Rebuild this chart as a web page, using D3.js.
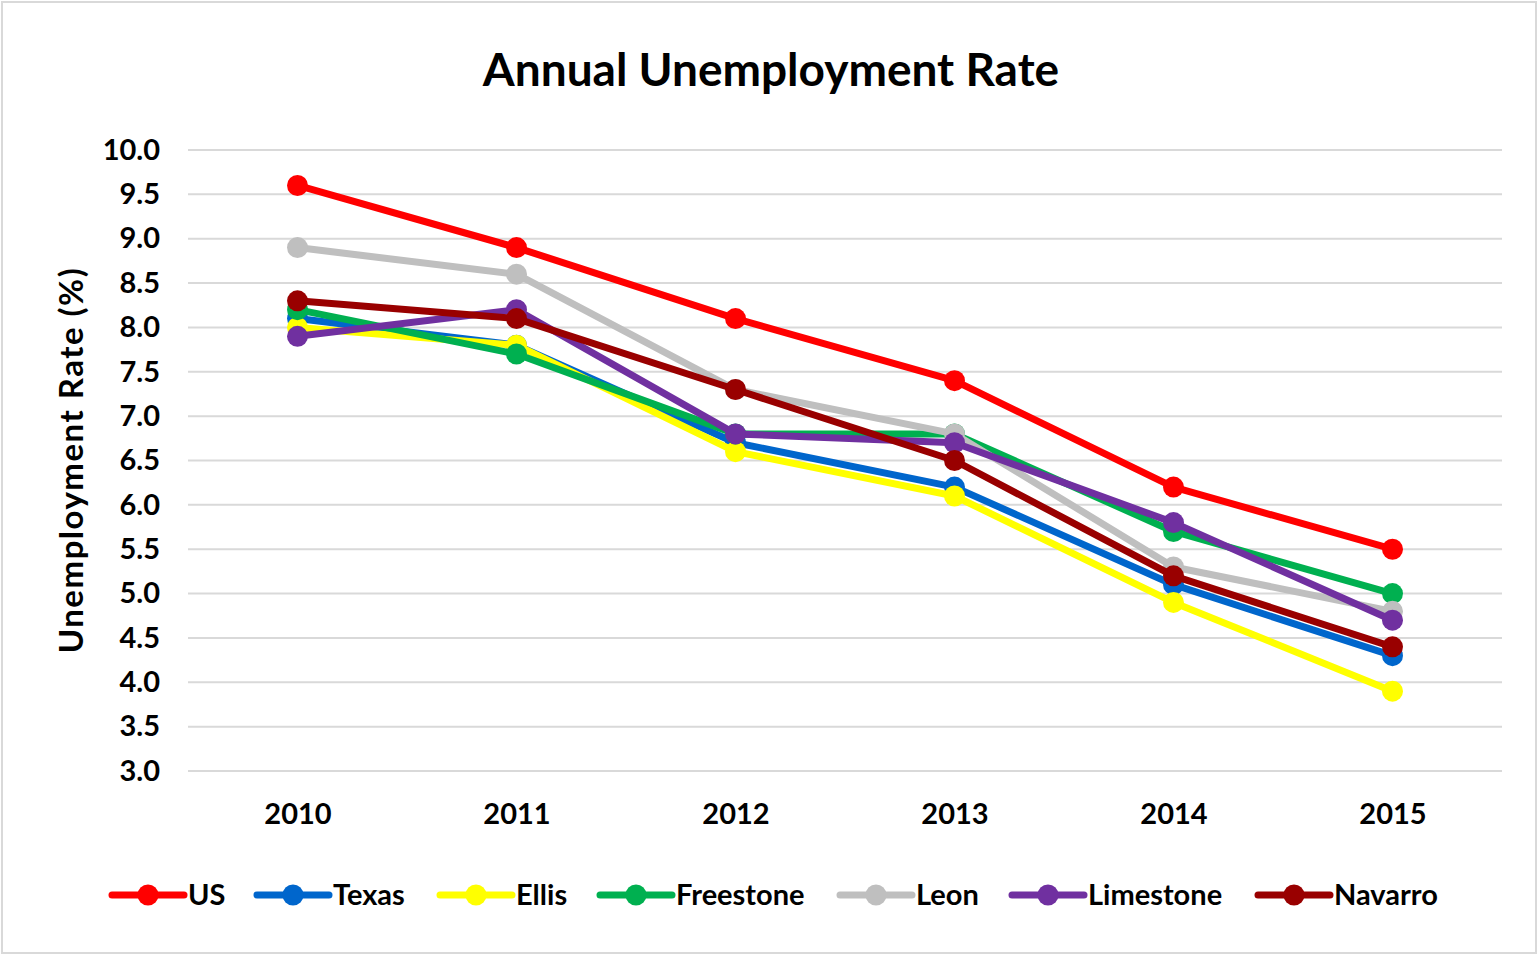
<!DOCTYPE html>
<html>
<head>
<meta charset="utf-8">
<script src="https://cdn.jsdelivr.net/npm/d3@7"></script>
<style>
  body { margin: 0; background: #fff; }
  text { font-family: Lato, "Open Sans", sans-serif; }
</style>
</head>
<body>
<svg id="chart"></svg>
<script>
// Annual unemployment rate, 2010-2015
const years = ["2010", "2011", "2012", "2013", "2014", "2015"];
const yTicks = [3.0, 3.5, 4.0, 4.5, 5.0, 5.5, 6.0, 6.5, 7.0, 7.5, 8.0, 8.5, 9.0, 9.5, 10.0];

const seriesNames = ["US", "Texas", "Ellis", "Freestone", "Leon", "Limestone", "Navarro"];
const seriesColors = ["#ff0000", "#0066cc", "#ffff00", "#00b050", "#bfbfbf", "#7030a0", "#990000"];

const usValues = [9.6, 8.9, 8.1, 7.4, 6.2, 5.5];
const texasValues = [8.1, 7.8, 6.7, 6.2, 5.1, 4.3];
const ellisValues = [8.0, 7.8, 6.6, 6.1, 4.9, 3.9];
const freestoneValues = [8.2, 7.7, 6.8, 6.8, 5.7, 5.0];
const leonValues = [8.9, 8.6, 7.3, 6.8, 5.3, 4.8];
const limestoneValues = [7.9, 8.2, 6.8, 6.7, 5.8, 4.7];
const navarroValues = [8.3, 8.1, 7.3, 6.5, 5.2, 4.4];

const allValues = [usValues, texasValues, ellisValues, freestoneValues, leonValues, limestoneValues, navarroValues];

const W = 1539, H = 956;
const svg = d3.select("#chart").attr("width", W).attr("height", H);

// outer border
svg.append("rect")
    .attr("x", 2).attr("y", 2)
    .attr("width", W - 5).attr("height", H - 5)
    .attr("fill", "#fff")
    .attr("stroke", "#d9d9d9")
    .attr("stroke-width", 2);

const plotLeft = 188, plotRight = 1502, plotTop = 150, plotBottom = 771;

const x = d3.scalePoint()
    .domain(years)
    .range([plotLeft, plotRight])
    .padding(0.5);

const y = d3.scaleLinear()
    .domain([3, 10])
    .range([plotBottom, plotTop]);

// gridlines
svg.append("g")
    .selectAll("line")
    .data(yTicks)
    .enter()
    .append("line")
    .attr("x1", plotLeft)
    .attr("x2", plotRight)
    .attr("y1", d => y(d))
    .attr("y2", d => y(d))
    .attr("stroke", "#d9d9d9")
    .attr("stroke-width", 2);

// y axis labels
const yAxis = d3.axisLeft(y)
    .tickValues(yTicks)
    .tickFormat(d3.format(".1f"))
    .tickSize(0)
    .tickPadding(28);

svg.append("g")
    .attr("transform", `translate(${plotLeft},0)`)
    .call(yAxis)
    .call(g => g.select(".domain").remove())
    .selectAll("text")
    .attr("font-family", "Lato, sans-serif")
    .attr("font-size", 29)
    .attr("font-weight", "bold")
    .attr("fill", "#000");

// x axis labels
const xAxis = d3.axisBottom(x).tickSize(0).tickPadding(32);

svg.append("g")
    .attr("transform", `translate(0,${plotBottom})`)
    .call(xAxis)
    .call(g => g.select(".domain").remove())
    .selectAll("text")
    .attr("font-family", "Lato, sans-serif")
    .attr("font-size", 29)
    .attr("font-weight", "bold")
    .attr("fill", "#000");

// title
svg.append("text")
    .attr("x", 771)
    .attr("y", 86)
    .attr("text-anchor", "middle")
    .attr("font-size", 46)
    .attr("font-weight", "bold")
    .attr("fill", "#000")
    .text("Annual Unemployment Rate");

// y axis title
svg.append("text")
    .attr("transform", "translate(83,460) rotate(-90)")
    .attr("text-anchor", "middle")
    .attr("font-size", 33)
    .attr("font-weight", "bold")
    .attr("letter-spacing", 1.5)
    .attr("fill", "#000")
    .text("Unemployment Rate (%)");

const line = d3.line()
    .x((d, i) => x(years[i]))
    .y(d => y(d));

// series lines + markers
allValues.forEach((vals, s) => {
    const g = svg.append("g");
    g.append("path")
        .datum(vals)
        .attr("d", line)
        .attr("fill", "none")
        .attr("stroke", seriesColors[s])
        .attr("stroke-width", 7)
        .attr("stroke-linejoin", "round");
    g.selectAll("circle")
        .data(vals)
        .enter()
        .append("circle")
        .attr("cx", (d, i) => x(years[i]))
        .attr("cy", d => y(d))
        .attr("r", 10.5)
        .attr("fill", seriesColors[s]);
});

// legend
const legendX = [112, 257, 440, 600, 840, 1012, 1258];
const legend = svg.append("g");
seriesNames.forEach((name, i) => {
    const lg = legend.append("g").attr("transform", `translate(${legendX[i]},895)`);
    lg.append("line")
        .attr("x1", 0).attr("x2", 72)
        .attr("stroke", seriesColors[i])
        .attr("stroke-width", 7)
        .attr("stroke-linecap", "round");
    lg.append("circle")
        .attr("cx", 36).attr("cy", 0).attr("r", 10.5)
        .attr("fill", seriesColors[i]);
    lg.append("text")
        .attr("x", 76).attr("y", 10)
        .attr("font-size", 29)
        .attr("font-weight", "bold")
        .attr("fill", "#000")
        .text(name);
});
</script>
</body>
</html>
